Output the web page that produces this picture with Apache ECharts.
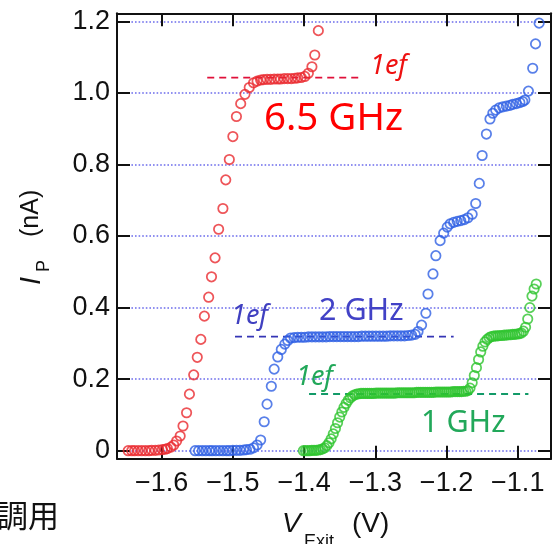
<!DOCTYPE html>
<html>
<head>
<meta charset="utf-8">
<script src="https://cdn.jsdelivr.net/npm/echarts@6/dist/echarts.min.js"></script>
<style>
html,body{margin:0;padding:0;background:#fff;}
#c{width:554px;height:544px;}
</style>
</head>
<body>
<div id="c"></div>
<script>
// ---- data ----
const redX = [-1.647,-1.642,-1.638,-1.633,-1.628,-1.623,-1.618,-1.614,-1.609,-1.604,-1.599,-1.595,-1.592,-1.587,-1.583,-1.579,-1.574,-1.570,-1.565,-1.561,-1.555,-1.550,-1.545,-1.540,-1.534,-1.530,-1.525,-1.520,-1.514,-1.510,-1.505,-1.500,-1.495,-1.489,-1.483,-1.477,-1.471,-1.466,-1.461,-1.457,-1.452,-1.447,-1.442,-1.437,-1.433,-1.428,-1.423,-1.418,-1.413,-1.409,-1.404,-1.399,-1.394,-1.389,-1.385,-1.380];
const redY = [0.000,0.000,0.000,0.000,0.000,0.000,0.000,0.001,0.001,0.002,0.003,0.004,0.006,0.010,0.016,0.027,0.041,0.069,0.106,0.158,0.212,0.261,0.311,0.376,0.429,0.486,0.539,0.619,0.677,0.757,0.814,0.878,0.934,0.970,0.996,1.015,1.028,1.033,1.036,1.037,1.038,1.038,1.039,1.039,1.039,1.040,1.040,1.040,1.041,1.042,1.043,1.046,1.055,1.073,1.106,1.174];

const blueX = [-1.553,-1.548,-1.543,-1.538,-1.533,-1.529,-1.524,-1.519,-1.514,-1.509,-1.505,-1.500,-1.495,-1.490,-1.485,-1.481,-1.476,-1.471,-1.466,-1.461,-1.456,-1.452,-1.446,-1.442,-1.437,-1.432,-1.427,-1.423,-1.419,
 -1.414,-1.409,-1.404,-1.399,-1.394,-1.389,-1.384,-1.379,-1.374,-1.369,-1.364,-1.359,-1.354,-1.349,-1.344,-1.339,-1.334,-1.329,-1.324,-1.319,-1.314,-1.309,-1.304,-1.299,-1.294,-1.289,-1.284,-1.279,-1.274,-1.269,-1.264,-1.259,-1.254,-1.249,-1.244,
 -1.240,-1.235,-1.229,-1.226,-1.219,-1.215,-1.209,-1.204,-1.199,-1.195,-1.190,-1.185,-1.180,-1.175,-1.170,-1.164,-1.159,-1.154,-1.150,-1.144,-1.139,-1.135,-1.131,-1.126,-1.121,-1.116,-1.111,-1.107,-1.102,-1.097,-1.093,-1.090,-1.085,-1.079,-1.075,-1.070];
const blueY = [0.000,0.000,0.000,0.000,0.000,0.000,0.000,0.000,0.000,0.000,0.000,0.001,0.001,0.001,0.002,0.003,0.004,0.008,0.016,0.030,0.081,0.130,0.180,0.228,0.262,0.283,0.298,0.308,0.315,
 0.316,0.317,0.317,0.317,0.318,0.318,0.318,0.318,0.318,0.318,0.319,0.319,0.319,0.319,0.319,0.319,0.319,0.319,0.319,0.320,0.320,0.320,0.320,0.320,0.320,0.320,0.320,0.321,0.321,0.321,0.321,0.321,0.322,0.323,0.325,
 0.333,0.351,0.384,0.438,0.494,0.545,0.587,0.608,0.625,0.634,0.638,0.641,0.643,0.646,0.651,0.661,0.691,0.747,0.825,0.885,0.927,0.943,0.952,0.958,0.961,0.963,0.965,0.968,0.970,0.973,0.976,0.980,1.005,1.069,1.137,1.195];

const greenX = [-1.401,-1.398,-1.395,-1.392,-1.389,-1.386,-1.383,-1.380,-1.377,-1.374,-1.371,-1.368,-1.365,-1.362,-1.359,-1.356,-1.353,-1.350,-1.347,-1.344,-1.341,-1.338,-1.335,-1.332,-1.329,-1.326,-1.323,
 -1.320,-1.317,-1.314,-1.311,-1.308,-1.305,-1.302,-1.299,-1.296,-1.293,-1.290,-1.287,-1.284,-1.281,-1.278,-1.275,-1.272,-1.269,-1.266,-1.263,-1.260,-1.257,-1.254,-1.251,-1.248,-1.245,-1.242,-1.239,-1.236,-1.233,-1.230,-1.227,-1.224,-1.221,-1.218,-1.215,-1.212,-1.209,-1.206,-1.203,-1.200,-1.197,-1.194,-1.191,-1.188,-1.185,-1.182,-1.179,-1.176,-1.173,
 -1.170,-1.167,-1.164,-1.161,-1.158,-1.155,-1.152,-1.149,-1.146,-1.143,-1.140,-1.137,
 -1.134,-1.131,-1.128,-1.125,-1.122,-1.119,-1.116,-1.113,-1.110,-1.107,-1.104,-1.101,-1.098,-1.095,
 -1.092,-1.089,-1.086,-1.083,-1.080,-1.077,-1.074];
const greenY = [0.000,0.000,0.000,0.000,0.001,0.001,0.001,0.002,0.003,0.005,0.008,0.014,0.022,0.033,0.047,0.062,0.078,0.094,0.108,0.121,0.132,0.141,0.148,0.153,0.156,0.158,0.159,
 0.160,0.160,0.160,0.160,0.160,0.160,0.160,0.161,0.161,0.161,0.161,0.161,0.161,0.161,0.161,0.161,0.161,0.162,0.162,0.162,0.162,0.162,0.162,0.162,0.162,0.162,0.163,0.163,0.163,0.163,0.163,0.163,0.163,0.163,0.163,0.164,0.164,0.164,0.164,0.164,0.164,0.164,0.164,0.165,0.165,0.165,0.165,0.165,0.166,0.166,
 0.168,0.175,0.190,0.210,0.232,0.255,0.276,0.292,0.304,0.311,0.316,0.319,
 0.320,0.321,0.321,0.322,0.322,0.323,0.323,0.324,0.324,0.325,0.325,0.326,0.327,0.329,
 0.334,0.345,0.368,0.400,0.432,0.452,0.466];

// 1ef reference levels (current, nA) and their drawn x-extent (V)
const efRedLine   = [[-1.536, 1.0425], [-1.317, 1.0425]];
const efBlueLine  = [[-1.497, 0.3186], [-1.190, 0.3186]];
const efGreenLine = [[-1.393, 0.1585], [-1.085, 0.1585]];

const xTicks = [-1.6, -1.5, -1.4, -1.3, -1.2, -1.1];
const yTicks = [0, 0.2, 0.4, 0.6, 0.8, 1.0, 1.2];

const xRange = [-1.6627, -1.0533];
const yRange = [-0.0224, 1.2225];

function zip(a, b) { return a.map((v, i) => [v, b[i]]); }
function near(v, list) { return list.some(t => Math.abs(t - v) < 1e-6); }

const chart = echarts.init(document.getElementById('c'), null, {renderer: 'canvas'});

const AX = '#111';
const labelFont = 'Liberation Sans';
const tick = {show: true, inside: true, length: 13, lineStyle: {color: AX, width: 2}};
const axLine = {show: true, onZero: false, lineStyle: {color: AX, width: 2}};

function marker(color) {
  return {color: 'transparent', borderColor: color, borderWidth: 1.75};
}

const option = {
  animation: false,
  backgroundColor: '#fff',
  grid: {left: 117, right: -6, top: 13.3, bottom: 85.3, containLabel: false},
  xAxis: [
    {type: 'value', position: 'bottom', min: xRange[0], max: xRange[1], splitNumber: 5,
     axisLine: axLine, axisTick: tick, splitLine: {show: false},
     axisLabel: {margin: 11, fontSize: 27, fontFamily: labelFont, color: AX,
       formatter: v => near(v, xTicks) ? '\u2212' + Math.abs(v).toFixed(1) : ''}},
    {type: 'value', position: 'top', min: xRange[0], max: xRange[1], splitNumber: 5,
     axisLine: axLine, axisTick: tick, splitLine: {show: false}, axisLabel: {show: false}}
  ],
  yAxis: [
    {type: 'value', position: 'left', min: yRange[0], max: yRange[1], splitNumber: 6,
     axisLine: axLine, axisTick: tick,
     splitLine: {show: true, lineStyle: {color: '#6c6cec', type: [1.6, 2], width: 1.7}},
     axisLabel: {margin: 7, fontSize: 27, fontFamily: labelFont, color: AX,
       formatter: v => near(v, yTicks) ? (v === 0 ? '0' : v.toFixed(1)) : ''}},
    {type: 'value', position: 'right', min: yRange[0], max: yRange[1], splitNumber: 6,
     axisLine: axLine, axisTick: tick, splitLine: {show: false}, axisLabel: {show: false}}
  ],
  series: [
    {type: 'line', data: efRedLine, symbol: 'none', silent: true, z: 1,
     lineStyle: {color: '#e0103a', width: 1.8, type: [7, 5]}},
    {type: 'line', data: efBlueLine, symbol: 'none', silent: true, z: 1,
     lineStyle: {color: '#3535b5', width: 1.8, type: [7, 5]}},
    {type: 'line', data: efGreenLine, symbol: 'none', silent: true, z: 1,
     lineStyle: {color: '#129a68', width: 1.8, type: [7, 5]}},
    {name: '6.5 GHz', type: 'scatter', data: zip(redX, redY), symbol: 'circle', symbolSize: 9.4,
     itemStyle: marker('#ea2a30'), z: 2},
    {name: '2 GHz', type: 'scatter', data: zip(blueX, blueY), symbol: 'circle', symbolSize: 9.4,
     itemStyle: marker('#2f60e4'), z: 3},
    {name: '1 GHz', type: 'scatter', data: zip(greenX, greenY), symbol: 'circle', symbolSize: 9.4,
     itemStyle: marker('#30c430'), z: 4}
  ],
  graphic: [
    // annotations
    {type: 'text', x: 264, y: 119, z: 10, style: {text: '6.5 GHz', fill: '#ff0000', fontSize: 38.5, fontFamily: 'Noto Sans', verticalAlign: 'middle'}},
    {type: 'text', x: 319, y: 311.5, z: 10, style: {text: '2 GHz', fill: '#4242c6', fontSize: 30.5, fontFamily: 'Noto Sans', verticalAlign: 'middle'}},
    {type: 'text', x: 421, y: 423, z: 10, style: {text: '1 GHz', fill: '#22a85a', fontSize: 30.5, fontFamily: 'Noto Sans', verticalAlign: 'middle'}},
    {type: 'text', x: 370, y: 66, z: 10, style: {text: '1ef', fill: '#ee1111', fontSize: 27, fontStyle: 'italic', fontFamily: 'Noto Sans', verticalAlign: 'middle'}},
    {type: 'text', x: 231, y: 316, z: 10, style: {text: '1ef', fill: '#4040c0', fontSize: 27, fontStyle: 'italic', fontFamily: 'Noto Sans', verticalAlign: 'middle'}},
    {type: 'text', x: 296, y: 377, z: 10, style: {text: '1ef', fill: '#22a85a', fontSize: 27, fontStyle: 'italic', fontFamily: 'Noto Sans', verticalAlign: 'middle'}},
    // x-axis title
    {type: 'text', x: 282, y: 524, style: {text: 'V', fill: AX, fontSize: 28, fontStyle: 'italic', fontFamily: labelFont, verticalAlign: 'middle'}},
    {type: 'text', x: 304, y: 542, style: {text: 'Exit', fill: AX, fontSize: 18, fontFamily: labelFont, verticalAlign: 'middle'}},
    {type: 'text', x: 352, y: 524, style: {text: '(V)', fill: AX, fontSize: 28, fontFamily: labelFont, verticalAlign: 'middle'}},
    // y-axis title (rotated)
    {type: 'text', x: 32, y: 285, rotation: Math.PI / 2, style: {text: 'I', fill: AX, fontSize: 29, fontStyle: 'italic', fontFamily: labelFont, align: 'left', verticalAlign: 'middle'}},
    {type: 'text', x: 44, y: 272, rotation: Math.PI / 2, style: {text: 'P', fill: AX, fontSize: 18, fontFamily: labelFont, align: 'left', verticalAlign: 'middle'}},
    {type: 'text', x: 31, y: 237, rotation: Math.PI / 2, style: {text: '(nA)', fill: AX, fontSize: 25, fontFamily: labelFont, align: 'left', verticalAlign: 'middle'}},
    // cut-off caption text at bottom-left
    {type: 'text', x: -3, y: 515, style: {text: '調用', fill: AX, fontSize: 31, fontFamily: 'Noto Sans CJK JP', verticalAlign: 'middle'}}
  ]
};
chart.setOption(option);
</script>
</body>
</html>
